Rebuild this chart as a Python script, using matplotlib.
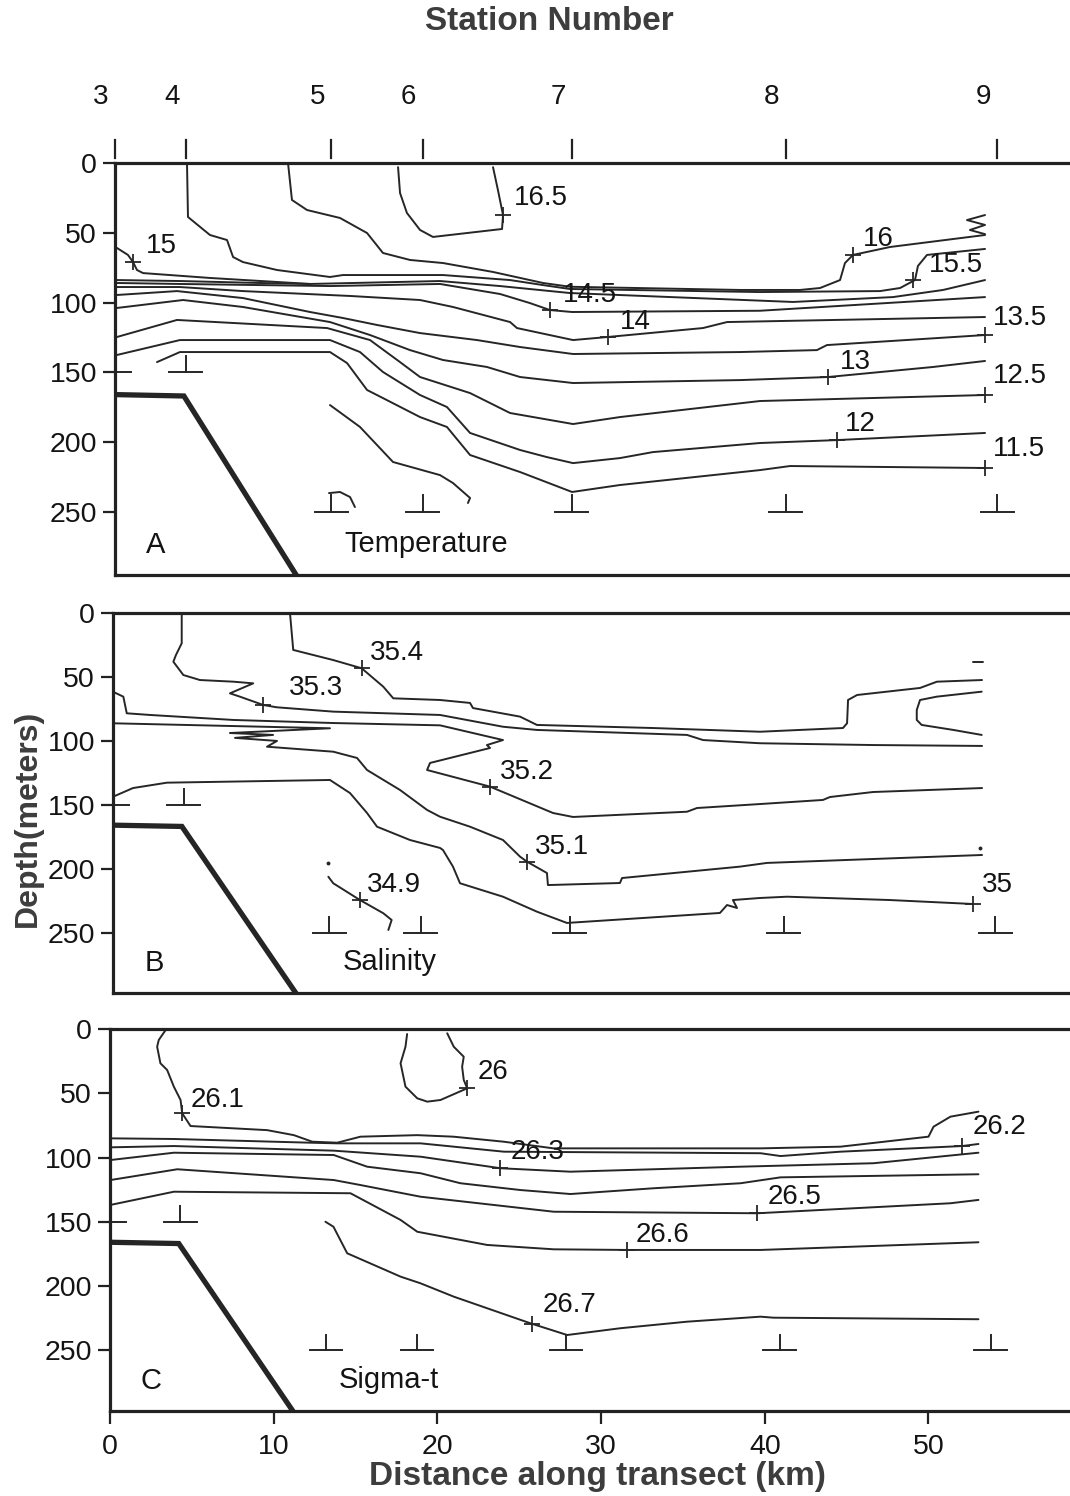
import matplotlib
matplotlib.use("Agg")
import matplotlib.pyplot as plt
from matplotlib.transforms import blended_transform_factory

plt.rcParams['font.family'] = ['Liberation Sans', 'DejaVu Sans']

# ---------------- shared data ----------------
STATION_NAMES = ['3', '4', '5', '6', '7', '8', '9']
STATION_KM = [0.0, 4.3, 13.2, 18.75, 27.85, 40.9, 53.8]
STATION_CAST_DEPTH = [150, 150, 250, 250, 250, 250, 250]
BATHY_KM = [0.0, 4.2, 11.3]
BATHY_DEPTH = [166, 167, 300]
DEPTH_TICKS = [0, 50, 100, 150, 200, 250]
DIST_TICKS = [0, 10, 20, 30, 40, 50]

# ---------------- Panel A: temperature ----------------
T16_5_KM = [17.26, 17.38, 17.80, 18.60, 19.39, 23.60, 23.66, 23.35, 23.05]
T16_5_D = [3.0, 21.5, 35.8, 48.0, 53.0, 47.3, 37.3, 19.4, 3.0]
T16_KM = [10.55, 10.79, 11.71, 13.72, 15.37, 16.34, 17.99, 20.00, 23.05, 26.10, 27.74, 38.11, 41.77, 42.99, 44.21, 44.51, 45.00, 47.26, 53.05]
T16_D = [0.0, 26.5, 33.7, 39.4, 50.2, 64.5, 69.5, 71.7, 78.1, 86.0, 88.7, 91.0, 91.0, 89.6, 83.9, 71.7, 65.9, 60.2, 51.6]
T16_END_KM = [53.05, 51.95, 53.05, 52.13, 53.05]
T16_END_D = [37.3, 40.9, 44.4, 48.0, 51.0]
T15_5_KM = [4.39, 4.45, 5.79, 6.83, 7.20, 7.80, 9.88, 13.11, 13.90, 20.00, 24.09, 26.10, 27.74, 39.33, 46.65, 47.87, 48.78, 48.96, 49.51, 53.05]
T15_5_D = [0.0, 38.7, 51.6, 55.2, 67.4, 71.0, 76.7, 81.7, 80.3, 80.3, 83.9, 87.5, 90.3, 92.5, 91.8, 89.6, 83.9, 73.8, 65.9, 61.6]
T15_KM = [0.12, 0.79, 1.10, 1.34, 1.71, 5.79, 11.89, 19.82, 23.48, 27.74, 41.34, 47.44, 50.49, 53.05]
T15_D = [60.9, 65.9, 71.0, 76.7, 78.9, 82.4, 86.7, 84.6, 88.2, 93.2, 99.6, 96.1, 91.0, 83.9]
T15B_KM = [0.12, 3.96, 8.84, 11.89]
T15B_D = [83.9, 84.6, 86.0, 86.7]
T14_5_KM = [0.12, 3.96, 13.11, 19.82, 23.48, 25.30, 26.52, 27.87, 39.33, 53.05]
T14_5_D = [86.0, 86.7, 88.2, 86.7, 93.9, 100.4, 105.4, 106.8, 105.9, 96.1]
T14_KM = [0.12, 3.96, 7.80, 14.33, 18.60, 20.61, 24.09, 24.51, 27.93, 30.06, 35.85, 37.32, 53.05]
T14_D = [88.9, 88.9, 91.8, 95.3, 98.2, 103.2, 114.0, 118.3, 126.9, 124.7, 118.3, 114.0, 110.4]
T13_5_KM = [0.12, 3.78, 7.80, 11.89, 13.90, 15.98, 18.60, 22.07, 24.70, 27.93, 38.11, 42.80, 43.41, 53.05]
T13_5_D = [94.6, 91.8, 96.8, 106.8, 111.1, 116.1, 121.9, 126.9, 131.9, 136.9, 135.5, 134.1, 130.5, 123.3]
T13_KM = [0.12, 4.15, 7.80, 13.11, 15.55, 17.99, 20.00, 22.68, 24.70, 27.93, 38.11, 43.48, 49.88, 53.05]
T13_D = [103.9, 98.2, 103.2, 114.0, 123.3, 134.1, 141.2, 146.2, 153.4, 157.7, 155.6, 153.4, 146.2, 141.9]
T12_5_KM = [0.12, 3.78, 12.93, 15.55, 17.38, 18.60, 21.65, 24.09, 27.93, 30.79, 39.33, 53.05]
T12_5_D = [124.7, 112.5, 118.3, 126.9, 142.7, 153.4, 164.9, 179.2, 187.1, 182.1, 170.6, 166.3]
T12_KM = [0.12, 3.96, 13.11, 14.94, 16.34, 18.60, 20.24, 21.65, 24.70, 26.34, 27.93, 30.79, 32.80, 39.33, 44.02, 53.05]
T12_D = [137.6, 126.9, 126.9, 135.5, 149.8, 166.3, 174.9, 193.5, 205.7, 210.8, 215.1, 211.5, 207.2, 200.7, 198.6, 193.5]
T11_5_KM = [2.56, 3.96, 13.11, 14.15, 15.37, 16.34, 18.60, 20.24, 21.65, 24.70, 27.87, 30.79, 39.33, 41.16, 53.05]
T11_5_D = [142.7, 135.5, 135.5, 143.4, 162.7, 168.5, 182.1, 189.2, 209.3, 221.5, 235.8, 230.8, 220.1, 217.2, 218.6]
T11_KM = [13.11, 14.94, 16.95, 19.82, 20.61, 21.65, 21.52]
T11_D = [173.5, 189.2, 214.3, 223.7, 229.4, 240.1, 243.7]
T11B_KM = [13.05, 13.72, 14.33, 14.63]
T11B_D = [236.6, 235.8, 239.4, 246.6]
T_TICK_KM = [23.66, 45.00, 48.66, 1.12, 26.52, 30.06, 53.05, 43.48, 53.05, 44.02, 53.05]
T_TICK_D = [37.3, 65.9, 83.9, 70.7, 105.4, 124.7, 123.3, 153.4, 166.3, 198.6, 218.6]
T_LABELS = ['16.5', '16', '15.5', '15', '14.5', '14', '13.5', '13', '12.5', '12', '11.5']
T_LABEL_KM = [24.3, 45.6, 49.6, 1.9, 27.3, 30.8, 53.5, 44.2, 53.5, 44.5, 53.5]
T_LABEL_D = [25.0, 54.5, 73.0, 59.5, 94.6, 114.0, 111.0, 142.6, 153.0, 187.0, 205.0]

# ---------------- Panel B: salinity ----------------
S35_4_KM = [10.79, 10.99, 13.43, 15.16, 16.48, 17.09, 19.94, 21.77, 21.95, 24.82, 25.85, 32.93, 39.45, 44.51, 44.76, 44.82, 45.37, 49.21, 50.24, 52.99]
S35_4_D = [0.0, 29.1, 37.0, 43.4, 57.8, 66.9, 68.2, 70.5, 74.5, 81.2, 87.7, 90.1, 93.0, 90.1, 86.4, 68.2, 64.3, 58.8, 53.9, 52.6]
S35_4B_KM = [52.97, 50.23, 49.21, 49.01, 49.01, 49.31, 51.24, 52.97]
S35_4B_D = [61.7, 65.6, 68.2, 76.0, 83.8, 87.7, 91.6, 95.5]
S35_4C_KM = [52.46, 53.07]
S35_4C_D = [38.3, 38.3]
S35_3_KM = [4.19, 4.19, 3.84, 3.68, 4.29, 5.30, 7.34, 8.55, 7.13, 7.74, 9.16, 9.98, 13.43, 19.94, 23.78, 25.85, 35.00, 35.98, 39.45, 46.34, 52.99]
S35_3_D = [0.0, 23.9, 33.0, 38.3, 48.7, 52.6, 53.9, 55.2, 63.0, 65.6, 72.1, 73.9, 77.3, 79.9, 89.1, 91.6, 95.5, 99.5, 102.0, 103.4, 104.1]
S35_2_KM = [0.12, 0.63, 0.84, 2.26, 7.34, 13.43, 19.94, 23.78, 22.80, 22.99, 19.33, 19.15, 22.99, 26.83, 28.05, 35.00, 35.61, 39.45, 43.29, 43.72, 46.34, 52.99]
S35_2_D = [62.5, 65.6, 78.6, 79.9, 83.8, 86.2, 88.0, 99.5, 103.4, 105.7, 117.4, 122.9, 135.9, 156.5, 159.6, 155.5, 152.6, 149.5, 146.3, 144.0, 140.1, 137.0]
S35_1_KM = [0.0, 13.23, 7.13, 9.76, 7.44, 10.00, 9.39, 13.43, 14.88, 15.49, 17.50, 19.15, 19.94, 21.77, 23.78, 24.82, 25.24, 26.46, 26.52, 30.91, 31.04, 38.23, 39.88, 52.99]
S35_1_D = [86.4, 90.3, 94.0, 95.5, 97.8, 100.2, 104.7, 108.6, 113.5, 122.9, 138.5, 154.1, 159.4, 167.2, 177.6, 190.6, 194.5, 203.4, 212.8, 211.2, 207.3, 198.4, 195.5, 189.3]
S35_0_KM = [0.0, 1.22, 3.29, 13.23, 14.45, 15.49, 16.10, 18.11, 19.94, 20.12, 20.73, 21.16, 23.78, 25.85, 27.68, 37.01, 37.44, 38.05, 37.80, 39.45, 41.10, 47.38, 52.44]
S35_0_D = [143.8, 137.0, 132.8, 130.7, 140.9, 156.5, 167.2, 177.6, 183.8, 185.4, 198.4, 211.4, 221.9, 233.6, 242.4, 234.6, 228.4, 230.7, 224.5, 222.9, 221.9, 224.5, 227.6]
S34_9_KM = [13.13, 13.43, 15.06, 16.48, 16.99, 16.79]
S34_9_D = [206.3, 211.4, 224.5, 234.8, 240.1, 247.9]
S_DOT_KM = [13.13, 52.87]
S_DOT_D = [195.8, 183.8]
S_TICK_KM = [15.16, 9.16, 22.99, 25.24, 15.06, 52.44]
S_TICK_D = [43.4, 72.1, 135.9, 194.5, 224.5, 227.6]
S_LABELS = ['35.4', '35.3', '35.2', '35.1', '34.9', '35']
S_LABEL_KM = [15.67, 10.7, 23.6, 25.7, 15.5, 53.0]
S_LABEL_D = [31.5, 59.0, 124.8, 183.0, 213.0, 213.0]

# ---------------- Panel C: sigma-t ----------------
G26_KM = [18.15, 18.05, 17.75, 18.05, 18.77, 19.38, 20.19, 21.82, 21.61, 21.51, 21.61, 21.00, 20.60]
G26_D = [3.7, 13.6, 26.5, 44.7, 53.8, 56.4, 55.1, 46.0, 39.5, 29.2, 21.4, 13.6, 3.1]
G26_1_KM = [3.43, 2.98, 2.88, 3.08, 3.49, 3.90, 4.31, 4.41, 4.92, 9.60, 11.23, 12.35, 13.88, 15.30, 18.77, 20.98, 24.04, 27.09, 39.74, 44.62, 50.00, 50.31, 51.34, 53.05]
G26_1_D = [0.0, 8.3, 13.6, 26.5, 31.7, 44.7, 55.1, 65.5, 75.4, 78.6, 82.5, 87.6, 88.4, 83.7, 82.5, 83.7, 87.6, 92.8, 92.8, 91.5, 83.7, 75.9, 68.1, 64.2]
G26_2_KM = [0.03, 3.90, 12.25, 13.88, 18.97, 24.06, 39.74, 40.96, 44.62, 52.06, 53.05]
G26_2_D = [85.0, 85.5, 88.4, 88.9, 88.9, 95.4, 96.6, 98.8, 95.4, 91.0, 89.4]
G26_3_KM = [0.03, 3.90, 13.67, 18.97, 23.85, 28.13, 38.52, 46.64, 53.05]
G26_3_D = [92.0, 91.0, 94.6, 99.3, 108.3, 111.0, 107.1, 104.4, 96.2]
G26_4_KM = [0.03, 3.90, 13.67, 15.71, 18.97, 21.41, 25.08, 28.13, 33.22, 38.52, 40.96, 53.05]
G26_4_D = [101.9, 96.2, 98.0, 107.1, 112.2, 120.0, 125.3, 128.4, 123.9, 120.0, 115.4, 113.0]
G26_5_KM = [0.03, 4.11, 13.67, 15.30, 18.97, 27.11, 39.54, 51.34, 53.05]
G26_5_D = [117.5, 109.1, 117.5, 121.4, 130.5, 142.2, 143.4, 135.6, 133.0]
G26_6_KM = [0.03, 3.90, 14.69, 17.75, 18.77, 23.04, 27.11, 31.59, 39.74, 53.05]
G26_6_D = [136.9, 126.6, 127.8, 148.6, 157.8, 168.1, 171.5, 172.0, 172.0, 166.0]
G26_7_KM = [13.16, 13.65, 14.49, 17.75, 18.97, 21.00, 25.69, 27.93, 31.19, 35.26, 39.74, 40.53, 53.05]
G26_7_D = [150.0, 153.9, 174.6, 192.8, 198.0, 208.4, 229.2, 238.3, 233.0, 227.9, 224.0, 224.8, 226.0]
G_TICK_KM = [21.82, 4.41, 52.06, 23.85, 39.54, 31.59, 25.79]
G_TICK_D = [46.0, 65.5, 91.0, 108.3, 143.4, 172.0, 229.5]
G_LABELS = ['26', '26.1', '26.2', '26.3', '26.5', '26.6', '26.7']
G_LABEL_KM = [22.45, 4.92, 52.7, 24.5, 40.2, 32.1, 26.4]
G_LABEL_D = [33.3, 55.0, 76.0, 96.0, 131.0, 160.0, 215.0]

# ---------------- drawing ----------------
W, H = 1070, 1496
LINE = '#262626'
TXT = '#141414'
fig = plt.figure(figsize=(W / 100, H / 100), dpi=100)


def make_panel(left, top, bottom, px_per_km, depth_max):
    ax = fig.add_axes([left / W, 1 - bottom / H, (W - left) / W, (bottom - top) / H])
    ax.set_xlim(0, (W - left) / px_per_km)
    ax.set_ylim(depth_max, 0)
    for s in ('top', 'left', 'bottom'):
        ax.spines[s].set_linewidth(2.3)
        ax.spines[s].set_color('#222222')
    ax.spines['right'].set_visible(False)
    ax.set_yticks(DEPTH_TICKS)
    ax.tick_params(axis='y', direction='out', length=9, width=1.6,
                   labelsize=20.5, pad=4, colors='#222222', labelcolor=TXT)
    ax.tick_params(axis='x', bottom=False, labelbottom=False)
    return ax


def draw_panel(ax, lines, tick_km, tick_d, labels, lab_km, lab_d, letter, name):
    for xs, ds in lines:
        ax.plot(xs, ds, color=LINE, lw=1.4, solid_joinstyle='round',
                solid_capstyle='round')
    ax.plot(tick_km, tick_d, ls='none', marker='+', ms=12, mew=1.3, color=LINE)
    for t, x, d in zip(labels, lab_km, lab_d):
        ax.text(x, d, t, fontsize=20, ha='left', va='center', color=TXT)
    ax.plot(BATHY_KM, BATHY_DEPTH, color='#252525', lw=3.8,
            solid_joinstyle='miter')
    for s, cd in zip(STATION_KM, STATION_CAST_DEPTH):
        ax.plot([s - 1.0, s + 1.0], [cd, cd], color=LINE, lw=1.4)
        ax.plot([s, s], [cd, cd - 12], color=LINE, lw=1.4)
    ax.text(2.5, 274, letter, fontsize=21, ha='center', va='center', color=TXT)
    ax.text(14.0, 273, name, fontsize=21, ha='left', va='center', color=TXT)


axA = make_panel(115, 163, 575, 16.4, 295.3)
axB = make_panel(113, 612.7, 992.7, 16.4, 296.9)
axC = make_panel(110, 1029.3, 1410.7, 16.37, 297.3)

draw_panel(axA,
           [(T16_5_KM, T16_5_D), (T16_KM, T16_D), (T16_END_KM, T16_END_D),
            (T15_5_KM, T15_5_D), (T15_KM, T15_D), (T15B_KM, T15B_D),
            (T14_5_KM, T14_5_D), (T14_KM, T14_D), (T13_5_KM, T13_5_D),
            (T13_KM, T13_D), (T12_5_KM, T12_5_D), (T12_KM, T12_D),
            (T11_5_KM, T11_5_D), (T11_KM, T11_D), (T11B_KM, T11B_D)],
           T_TICK_KM, T_TICK_D, T_LABELS, T_LABEL_KM, T_LABEL_D, 'A', 'Temperature')

draw_panel(axB,
           [(S35_4_KM, S35_4_D), (S35_4B_KM, S35_4B_D), (S35_4C_KM, S35_4C_D),
            (S35_3_KM, S35_3_D), (S35_2_KM, S35_2_D), (S35_1_KM, S35_1_D),
            (S35_0_KM, S35_0_D), (S34_9_KM, S34_9_D)],
           S_TICK_KM, S_TICK_D, S_LABELS, S_LABEL_KM, S_LABEL_D, 'B', 'Salinity')
axB.plot(S_DOT_KM, S_DOT_D, ls='none', marker='o', ms=1.8, color=LINE)

draw_panel(axC,
           [(G26_KM, G26_D), (G26_1_KM, G26_1_D), (G26_2_KM, G26_2_D),
            (G26_3_KM, G26_3_D), (G26_4_KM, G26_4_D), (G26_5_KM, G26_5_D),
            (G26_6_KM, G26_6_D), (G26_7_KM, G26_7_D)],
           G_TICK_KM, G_TICK_D, G_LABELS, G_LABEL_KM, G_LABEL_D, 'C', 'Sigma-t')

axC.set_xticks(DIST_TICKS)
axC.tick_params(axis='x', bottom=True, labelbottom=True, direction='out',
                length=9, width=1.6, labelsize=20.5, pad=8, colors='#222222',
                labelcolor=TXT)

# station ticks and numbers above panel A
trans = blended_transform_factory(axA.transData, axA.transAxes)
for s, name in zip(STATION_KM, STATION_NAMES):
    axA.plot([s, s], [1.012, 1.056], transform=trans, clip_on=False,
             color='#222222', lw=1.6)
    axA.annotate(name, xy=(s, 1.16), xycoords=trans, xytext=(-10, 0),
                 textcoords='offset points', ha='center', va='center',
                 fontsize=20, color=TXT, annotation_clip=False)

fig.text(549 / W, 1 - 22 / H, 'Station Number', ha='center', va='center',
         fontsize=24, fontweight='bold', color='#3d3d3d')
fig.text(597 / W, 1 - 1476 / H, 'Distance along transect (km)', ha='center',
         va='center', fontsize=24, fontweight='bold', color='#3d3d3d')
fig.text(28 / W, 1 - 818 / H, 'Depth(meters)', rotation=90, ha='center',
         va='center', fontsize=23, fontweight='bold', color='#3d3d3d')

fig.savefig('out.png', dpi=100)
